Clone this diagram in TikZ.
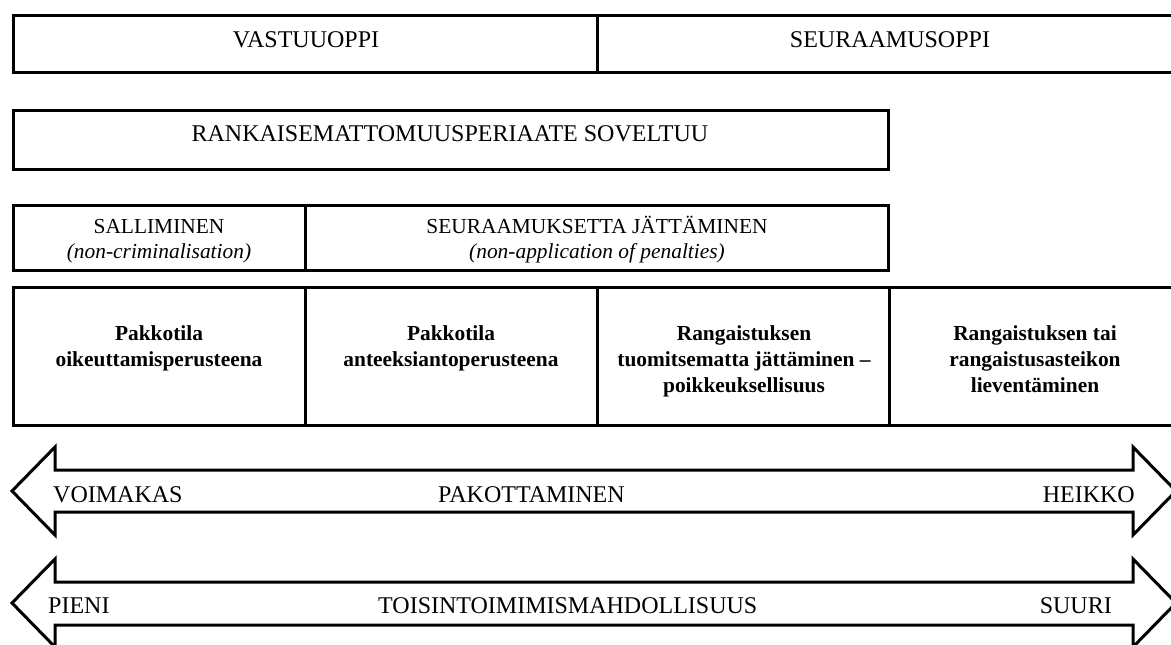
\documentclass[tikz,border=0pt]{standalone}
\usepackage{fontspec}
\setmainfont{Liberation Serif}
\begin{document}
\begin{tikzpicture}[x=1pt,y=-1pt,
  box/.style={draw=black,line width=3pt,rectangle,inner sep=0pt,outer sep=0pt,anchor=north west},
  big/.style={anchor=base,inner sep=0pt,font=\fontsize{24}{28}\selectfont},
  small/.style={anchor=base,inner sep=0pt,align=center,font=\fontsize{21.4}{25}\selectfont},
  bold/.style={anchor=base,inner sep=0pt,align=center,font=\fontsize{21.4}{26}\selectfont\bfseries},
  arr/.style={draw=black,line width=3pt,line join=miter,fill=white}]
\clip (0,0) rectangle (1171,645);
\useasboundingbox (0,0) rectangle (1171,645);
% row 1
\node[box,minimum width=584pt,minimum height=57pt] (vastuu) at (13,15) {};
\node[box,minimum width=584pt,minimum height=57pt] (seur) at (597,15) {};
\node[big] (tvastuu) at (306,47) {VASTUUOPPI};
\node[big] (tseur) at (890,47) {SEURAAMUSOPPI};
% row 2
\node[box,minimum width=875pt,minimum height=59pt] (rank) at (13,110) {};
\node[big] (trank) at (450,141) {RANKAISEMATTOMUUSPERIAATE SOVELTUU};
% row 3 (base anchor = last line)
\node[box,minimum width=292pt,minimum height=65pt] (sall) at (13,205) {};
\node[box,minimum width=583pt,minimum height=65pt] (jatt) at (305,205) {};
\node[small] (tsall) at (159,258) {SALLIMINEN\\\textit{(non-criminalisation)}};
\node[small] (tjatt) at (597,258) {SEURAAMUKSETTA JÄTTÄMINEN\\\textit{(non-application of penalties)}};
% row 4 (base anchor = last line)
\node[box,minimum width=292pt,minimum height=138pt] (c1) at (13,287) {};
\node[box,minimum width=292pt,minimum height=138pt] (c2) at (305,287) {};
\node[box,minimum width=292pt,minimum height=138pt] (c3) at (597,287) {};
\node[box,minimum width=292pt,minimum height=138pt] (c4) at (889,287) {};
\node[bold] (t1) at (159,366.5) {Pakkotila\\oikeuttamisperusteena};
\node[bold] (t2) at (451,366.5) {Pakkotila\\anteeksiantoperusteena};
\node[bold] (t3) at (744,392.5) {Rangaistuksen\\tuomitsematta jättäminen –\\poikkeuksellisuus};
\node[bold] (t4) at (1035,392.5) {Rangaistuksen tai\\rangaistusasteikon\\lieventäminen};
% arrow 1
\draw[arr] (12,491) -- (55,447) -- (55,470) -- (1133,470) -- (1133,447) -- (1176,491)
  -- (1133,535) -- (1133,512) -- (55,512) -- (55,535) -- cycle;
\node[big,anchor=base west] (voim) at (53,502) {VOIMAKAS};
\node[big,anchor=base west] (pak) at (438,502) {PAKOTTAMINEN};
\node[big,anchor=base east] (heik) at (1135,502) {HEIKKO};
% arrow 2
\draw[arr] (12,603) -- (55,559) -- (55,582) -- (1133,582) -- (1133,559) -- (1176,603)
  -- (1133,647) -- (1133,625) -- (55,625) -- (55,647) -- cycle;
\node[big,anchor=base west] (pien) at (48,613) {PIENI};
\node[big,anchor=base west] (tois) at (378,613) {TOISINTOIMIMISMAHDOLLISUUS};
\node[big,anchor=base east] (suur) at (1112,613) {SUURI};
\end{tikzpicture}
\end{document}
